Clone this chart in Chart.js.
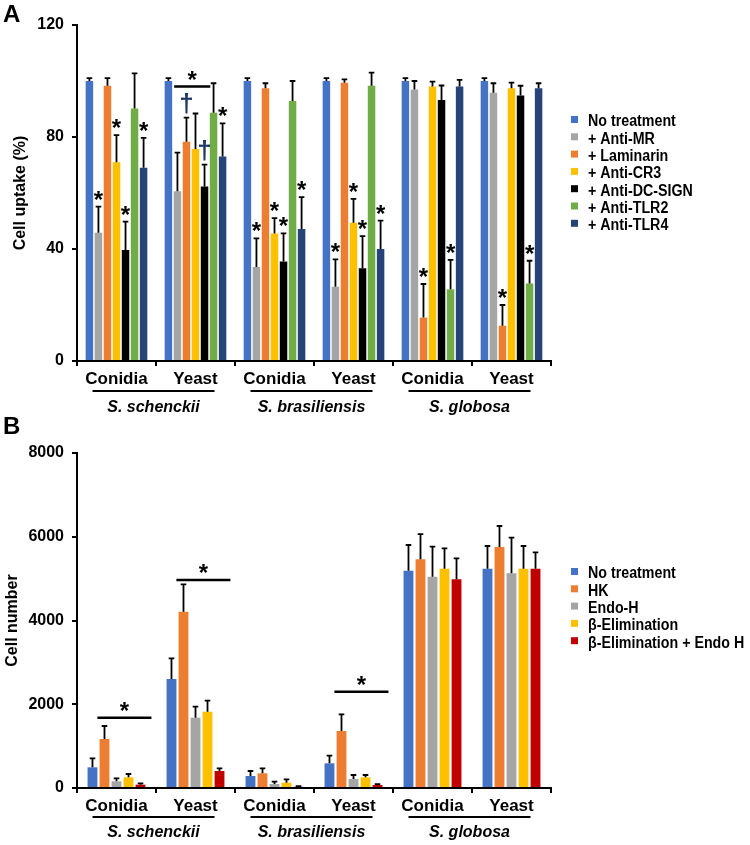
<!DOCTYPE html>
<html lang="en">
<head>
  <meta charset="UTF-8">
  <title>Cell uptake / cell number</title>
  <script src="https://cdn.jsdelivr.net/npm/chart.js"></script>
  <style>
    html,body{width:750px;height:845px;margin:0;padding:0;overflow:hidden;background:#fff;font-family:Arial,'Liberation Sans',sans-serif}
    .panel{position:absolute;left:0}
    .panel canvas{display:block}
    #wrapA{top:0}
    #wrapB{top:420px}
    .letter{position:absolute;left:3px;font:bold 24px Arial,'Liberation Sans',sans-serif;color:#000}
  </style>
</head>
<body>
  <div class="panel" id="wrapA"><canvas id="chartA" width="750" height="420"></canvas></div>
  <div class="panel" id="wrapB"><canvas id="chartB" width="750" height="425"></canvas></div>
  <div class="letter" style="top:0px">A</div>
  <div class="letter" style="top:412px">B</div>

<script>
/******** data ********/
const categories=['Conidia','Yeast','Conidia','Yeast','Conidia','Yeast'];
const species=['S. schenckii','S. brasiliensis','S. globosa'];

// panel A – cell uptake (%)
const labelsA=['No treatment','+ Anti-MR','+ Laminarin','+ Anti-CR3','+ Anti-DC-SIGN','+ Anti-TLR2','+ Anti-TLR4'];
const colorsA=['#4472C4','#A5A5A5','#ED7D31','#FFC000','#000000','#70AD47','#264478'];
const noTreatA=[100,100,100,100,100,100];
const antiMR=[45.8,60.6,33.6,26.5,97,95.8];
const laminarin=[98.3,78.3,97.4,99.4,15.5,12.6];
const antiCR3=[71,75.7,45.5,49.4,98,97.4];
const antiDC=[39.6,62.3,35.5,33.1,93.2,94.8];
const antiTLR2=[90.2,88.7,92.9,98.3,25.6,27.7];
const antiTLR4=[69,73,47.1,40,98,97.4];
const errA=[
  [1,1,1,1,1,1],
  [9.3,13.8,10.2,9.8,3,3.4],
  [2.7,8.6,1.8,1.2,12,7.4],
  [9.7,12.7,5.5,8.5,1.8,2],
  [10.2,7.8,10.1,11.5,5.2,3.5],
  [12.5,10.5,7.1,4.7,10.5,8.1],
  [10.7,11.9,11.4,10.1,2.4,1.8]
];
const starsA=[
  [0,0,0,0,0,0],
  [1,0,1,1,0,0],
  [0,0,0,0,1,1],
  [1,0,1,1,0,0],
  [1,0,1,1,0,0],
  [0,0,0,0,1,1],
  [1,1,1,1,0,0]
];
const daggersA=[
  [0,0,0,0,0,0],
  [0,0,0,0,0,0],
  [0,1,0,0,0,0],
  [0,0,0,0,0,0],
  [0,1,0,0,0,0],
  [0,0,0,0,0,0],
  [0,0,0,0,0,0]
];
const bracketCatsA=[1];
const bracketLevelsA=[98];
const yTicksA=[0,40,80,120];

// panel B – cell number
const labelsB=['No treatment','HK','Endo-H','β-Elimination','β-Elimination + Endo H'];
const colorsB=['#4472C4','#ED7D31','#A5A5A5','#FFC000','#C00000'];
const noTreatB=[494,2603,287,589,5190,5237];
const hk=[1170,4210,350,1361,5461,5755];
const endoH=[160,1679,96,215,5046,5126];
const betaElim=[255,1822,127,255,5237,5237];
const betaEndo=[80,406,30,72,4983,5237];
const errB=[
  [215,494,119,183,613,542],
  [311,654,120,398,604,502],
  [71,263,55,95,716,851],
  [79,263,80,55,487,542],
  [30,64,15,20,502,391]
];
const bracketCatsB=[0,1,3];
const bracketLevelsB=[1680,4970,2300];
const yTicksB=[0,2000,4000,6000,8000];

/******** helpers ********/
const FONT="Arial, 'Liberation Sans', sans-serif";

const annotations={
  id:'annotations',
  afterDatasetsDraw(chart,args,o){
    const ctx=chart.ctx, ys=chart.scales.y, xs=chart.scales.x;
    ctx.save();
    // error bars + marks
    chart.data.datasets.forEach((ds,i)=>{
      chart.getDatasetMeta(i).data.forEach((bar,j)=>{
        const top=ys.getPixelForValue(ds.data[j]+ds.errors[j]);
        ctx.strokeStyle='#000';ctx.lineWidth=1.8;
        ctx.beginPath();
        ctx.moveTo(bar.x,bar.y);ctx.lineTo(bar.x,top);
        ctx.moveTo(bar.x-2.8,top);ctx.lineTo(bar.x+2.8,top);
        ctx.stroke();
        ctx.textAlign='center';ctx.textBaseline='alphabetic';
        if(ds.stars&&ds.stars[j]){
          ctx.fillStyle='#000';ctx.font='bold 24px '+FONT;
          ctx.fillText('*',bar.x,top+1);
        }
        if(ds.daggers&&ds.daggers[j]){
          ctx.fillStyle='#1F3864';ctx.font='bold 26px '+FONT;
          ctx.fillText('\u2020',bar.x,top-6);
        }
      });
    });
    // significance brackets
    o.bracketCats.forEach((c,k)=>{
      const b0=chart.getDatasetMeta(0).data[c];
      const b1=chart.getDatasetMeta(o.bracketLast).data[c];
      const x0=b0.x+b0.width/2+o.bracketStart;
      const x1=b1.x+b1.width/2+o.bracketEnd;
      const yy=ys.getPixelForValue(o.bracketLevels[k]);
      ctx.strokeStyle='#000';ctx.lineWidth=2.5;
      ctx.beginPath();ctx.moveTo(x0,yy);ctx.lineTo(x1,yy);ctx.stroke();
      ctx.fillStyle='#000';ctx.font='bold 24px '+FONT;ctx.textAlign='center';ctx.textBaseline='alphabetic';
      ctx.fillText('*',(x0+x1)/2,yy+1);
    });
    // species underlines + names
    const bottom=chart.chartArea.bottom;
    species.forEach((s,k)=>{
      const xa=xs.getPixelForValue(2*k)-24, xb=xs.getPixelForValue(2*k+1)+19;
      ctx.strokeStyle='#000';ctx.lineWidth=2;
      ctx.beginPath();ctx.moveTo(xa,bottom+o.lineOffset);ctx.lineTo(xb,bottom+o.lineOffset);ctx.stroke();
      ctx.fillStyle='#000';ctx.font='italic bold 16px '+FONT;ctx.textAlign='center';ctx.textBaseline='middle';
      ctx.fillText(s,(xa+xb)/2,bottom+o.speciesOffset);
    });
    // legend
    chart.data.datasets.forEach((ds,i)=>{
      const ry=o.legendY+i*o.legendStep;
      ctx.fillStyle=ds.backgroundColor;
      ctx.fillRect(o.legendX,ry-6,7,7);
      ctx.save();
      ctx.translate(o.legendX+17,ry);ctx.scale(0.89,1);
      ctx.fillStyle='#000';ctx.font='bold 16px '+FONT;ctx.textAlign='left';ctx.textBaseline='middle';
      ctx.fillText(ds.label,0,0);
      ctx.restore();
    });
    ctx.restore();
  }
};

function makeChart(id,labels,colors,series,errs,stars,daggers,yMax,yStep,yTitle,titlePad,padTop,xHeight,ann,catPct,barPct){
  const datasets=series.map((d,i)=>({
    label:labels[i],data:d,backgroundColor:colors[i],borderWidth:0,
    errors:errs[i],stars:stars?stars[i]:null,daggers:daggers?daggers[i]:null,
    categoryPercentage:catPct,barPercentage:barPct
  }));
  return new Chart(document.getElementById(id),{
    type:'bar',
    data:{labels:categories,datasets},
    options:{
      responsive:false,animation:false,
      layout:{padding:{left:0,right:199,top:padTop,bottom:0}},
      plugins:{legend:{display:false},tooltip:{enabled:false},annotations:ann},
      scales:{
        x:{
          grid:{display:true,drawOnChartArea:false,drawTicks:true,tickLength:5,color:'#000',lineWidth:2,offset:true},
          border:{display:true,color:'#000',width:2},
          ticks:{color:'#000',font:{family:FONT,size:17,weight:'bold'},padding:3,maxRotation:0,autoSkip:false},
          afterFit:s=>{s.height=xHeight;}
        },
        y:{
          min:0,max:yMax,
          grid:{display:true,drawOnChartArea:false,drawTicks:true,tickLength:5,color:'#000',lineWidth:2},
          border:{display:true,color:'#000',width:2},
          ticks:{stepSize:yStep,color:'#000',font:{family:FONT,size:16,weight:'bold'},padding:8,callback:v=>String(v)},
          title:{display:true,text:yTitle,color:'#000',font:{family:FONT,size:16,weight:'bold'},padding:{top:titlePad,bottom:0}},
          afterFit:s=>{s.width=77;}
        }
      }
    },
    plugins:[annotations]
  });
}

makeChart('chartA',labelsA,colorsA,
  [noTreatA,antiMR,laminarin,antiCR3,antiDC,antiTLR2,antiTLR4],
  errA,starsA,daggersA,yTicksA[yTicksA.length-1],yTicksA[1],'Cell uptake (%)',11,25,59,
  {bracketCats:bracketCatsA,bracketLevels:bracketLevelsA,bracketLast:4,bracketStart:2,bracketEnd:2,
   lineOffset:30,speciesOffset:47,legendX:571,legendY:122,legendStep:17.3},0.8,0.83);

makeChart('chartB',labelsB,colorsB,
  [noTreatB,hk,endoH,betaElim,betaEndo],
  errB,null,null,yTicksB[yTicksB.length-1],yTicksB[1],'Cell number',3,33,57,
  {bracketCats:bracketCatsB,bracketLevels:bracketLevelsB,bracketLast:4,bracketStart:0,bracketEnd:6,
   lineOffset:29,speciesOffset:45,legendX:571,legendY:154,legendStep:17.3},0.76,0.82);
</script>
</body>
</html>
